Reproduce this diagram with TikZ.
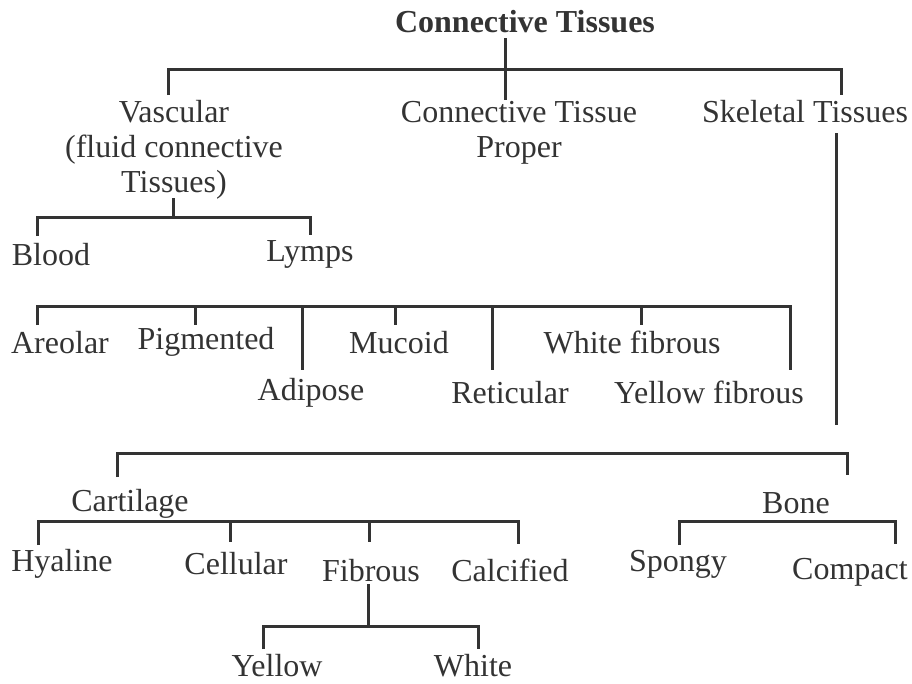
\documentclass[tikz,border=0pt]{standalone}
\usepackage{fontspec}
\setmainfont{Liberation Serif}
\definecolor{ink}{HTML}{333333}

\begin{document}
\begin{tikzpicture}[
    x=1pt, y=-1pt,
    term/.style={anchor=base,inner sep=0pt,text=ink,align=center,font=\fontsize{32}{35}\selectfont},
    heading/.style={term,font=\fontsize{32}{35}\selectfont\bfseries},
    link/.style={draw=ink,line width=3pt}
]
\useasboundingbox (0,0) rectangle (912,683);

% Title and first level (multi-line nodes sit on their last line)
\node[heading] (ct) at (525,32) {Connective Tissues};
\node[term] (vasc) at (174,192) {Vascular\\(fluid connective\\Tissues)};
\node[term] (ctp) at (519,157) {Connective Tissue\\Proper};
\node[term] (skel) at (805,122) {Skeletal Tissues};

% Vascular
\node[term] (blood) at (51,265) {Blood};
\node[term] (lymps) at (310,261) {Lymps};

% Connective tissue proper
\node[term] (areolar) at (60,353) {Areolar};
\node[term] (pigm) at (206,349) {Pigmented};
\node[term] (adipose) at (311,400) {Adipose};
\node[term] (mucoid) at (399,353) {Mucoid};
\node[term] (retic) at (510,403) {Reticular};
\node[term] (whitef) at (632,353) {White fibrous};
\node[term] (yellowf) at (709,403) {Yellow fibrous};

% Skeletal tissues
\node[term] (cart) at (130,511) {Cartilage};
\node[term] (bone) at (796,513) {Bone};
\node[term] (hyaline) at (62,571) {Hyaline};
\node[term] (cell) at (236,574) {Cellular};
\node[term] (fibr) at (371,581) {Fibrous};
\node[term] (calc) at (510,581) {Calcified};
\node[term] (spongy) at (678,571) {Spongy};
\node[term] (compact) at (850,579) {Compact};
\node[term] (yellow) at (277,676) {Yellow};
\node[term] (white) at (473,676) {White};

% Bar levels
\coordinate (b-top) at (0,69);
\coordinate (b-vasc) at (0,217);
\coordinate (b-ctp) at (0,306);
\coordinate (b-skel) at (0,453);
\coordinate (b-cart) at (0,521);
\coordinate (b-fibr) at (0,626);

% Line ends
\coordinate (ct-s) at (505,38);
\coordinate (ct-e) at (505,100);
\coordinate (vasc-n) at (168,95);
\coordinate (skel-n) at (841,95);
\coordinate (vasc-s) at (173,198);
\coordinate (blood-n) at (37,236);
\coordinate (lymps-n) at (310,235);
\coordinate (areolar-n) at (37,325);
\coordinate (pigm-n) at (195,325);
\coordinate (adipose-n) at (302,370);
\coordinate (mucoid-n) at (395,325);
\coordinate (retic-n) at (492,370);
\coordinate (whitef-n) at (641,325);
\coordinate (yellowf-n) at (790,370);
\coordinate (skel-s) at (836,133);
\coordinate (skel-e) at (836,425);
\coordinate (cart-n) at (117,477);
\coordinate (bone-n) at (847,475);
\coordinate (hyaline-n) at (38,545);
\coordinate (cell-n) at (230,542);
\coordinate (fibr-n) at (369,542);
\coordinate (calc-n) at (518,544);
\coordinate (spongy-n) at (679,545);
\coordinate (compact-n) at (895,544);
\coordinate (fibr-s) at (368,584);
\coordinate (yellow-n) at (263,649);
\coordinate (white-n) at (478,649);

% Connectors
\draw[link] (ct-s) -- (ct-e);
\draw[link] (vasc-n) -- (vasc-n |- b-top) -- (skel-n |- b-top) -- (skel-n);

\draw[link] (vasc-s) -- (vasc-s |- b-vasc);
\draw[link] (blood-n) -- (blood-n |- b-vasc) -- (lymps-n |- b-vasc) -- (lymps-n);

\draw[link] (areolar-n) -- (areolar-n |- b-ctp) -- (yellowf-n |- b-ctp) -- (yellowf-n);
\draw[link] (pigm-n |- b-ctp) -- (pigm-n);
\draw[link] (adipose-n |- b-ctp) -- (adipose-n);
\draw[link] (mucoid-n |- b-ctp) -- (mucoid-n);
\draw[link] (retic-n |- b-ctp) -- (retic-n);
\draw[link] (whitef-n |- b-ctp) -- (whitef-n);

\draw[link] (skel-s) -- (skel-e);
\draw[link] (cart-n) -- (cart-n |- b-skel) -- (bone-n |- b-skel) -- (bone-n);

\draw[link] (hyaline-n) -- (hyaline-n |- b-cart) -- (calc-n |- b-cart) -- (calc-n);
\draw[link] (cell-n |- b-cart) -- (cell-n);
\draw[link] (fibr-n |- b-cart) -- (fibr-n);
\draw[link] (spongy-n) -- (spongy-n |- b-cart) -- (compact-n |- b-cart) -- (compact-n);

\draw[link] (fibr-s) -- (fibr-s |- b-fibr);
\draw[link] (yellow-n) -- (yellow-n |- b-fibr) -- (white-n |- b-fibr) -- (white-n);

\end{tikzpicture}
\end{document}
